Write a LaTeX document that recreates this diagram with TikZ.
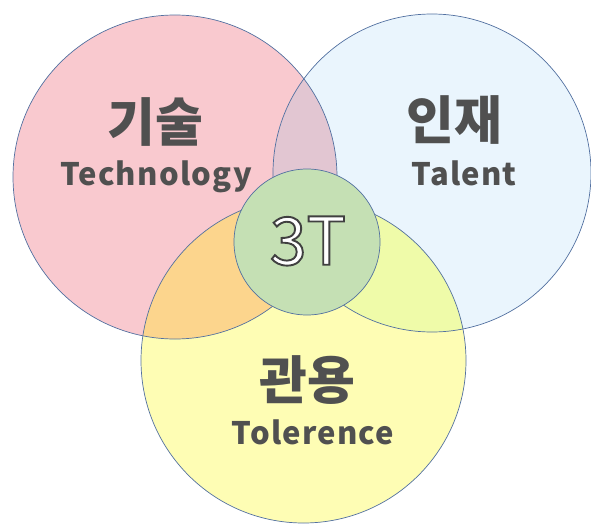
\documentclass[tikz,border=0pt]{standalone}
\usepackage{fontspec}
\usepackage{xcolor}
\newfontfamily\krfont{Noto Sans CJK KR}
\newfontfamily\enfont{Noto Sans CJK KR}[LetterSpace=4]
\definecolor{techpink}{HTML}{F9C9CF}
\definecolor{talentblue}{HTML}{EAF5FD}
\definecolor{tolyellow}{HTML}{FEFDB4}
\definecolor{coregreen}{HTML}{C5E0B4}
\definecolor{mauve}{HTML}{E2C6D2}
\definecolor{peach}{HTML}{FCD58D}
\definecolor{lime}{HTML}{EFFBA9}
\definecolor{rimblue}{HTML}{5270A0}
\definecolor{inkgray}{HTML}{505050}
% white letters with a grey outline (text render mode 2)
\newcommand\outlined[1]{\special{pdf:literal direct 0.25 0.25 0.25 RG 1.9 w 2 Tr}#1\special{pdf:literal direct 0 Tr}}
\tikzset{
    venn-rim/.style = {draw=rimblue, line width=0.7pt},
    venn-title/.style = {text=inkgray, font=\krfont\bfseries\fontsize{52}{52}\selectfont},
    venn-subtitle/.style = {text=inkgray, anchor=base, font=\enfont\bfseries\fontsize{31}{31}\selectfont},
    core-label/.style = {text=white, font=\krfont\fontsize{66}{66}\selectfont},
}

\begin{document}
\begin{tikzpicture}[x=1pt, y=-1pt]
\useasboundingbox (0,0) rectangle (591,524);
\coordinate (tech) at (175,177);
\coordinate (talent) at (432,173);
\coordinate (tol) at (303.5,360.5);
\coordinate (core) at (307,242);

% circles and their overlaps
\fill[techpink] (tech) circle[radius=162pt];
\fill[talentblue] (talent) circle[radius=159pt];
\fill[tolyellow] (tol) circle[radius=162.5pt];
\begin{scope}
    \clip (tech) circle[radius=162pt];
    \fill[mauve] (talent) circle[radius=159pt];
    \fill[peach] (tol) circle[radius=162.5pt];
\end{scope}
\begin{scope}
    \clip (talent) circle[radius=159pt];
    \fill[lime] (tol) circle[radius=162.5pt];
\end{scope}
\draw[venn-rim] (tech) circle[radius=162pt];
\draw[venn-rim] (talent) circle[radius=159pt];
\draw[venn-rim] (tol) circle[radius=162.5pt];
\draw[venn-rim, fill=coregreen] (core) circle[radius=73pt];

% labels
\node[venn-title] (tech-title) at (155,122) {기술};
\node[venn-subtitle] (tech-sub) at (156,185) {Technology};
\node[venn-title] (talent-title) at (454,120) {인재};
\node[venn-subtitle] (talent-sub) at (464,185) {Talent};
\node[venn-title] (tol-title) at (307,380) {관용};
\node[venn-subtitle] (tol-sub) at (313,444) {Tolerence};
\node[core-label] (core-title) at (308,241) {\outlined{3T}};
\end{tikzpicture}
\end{document}
